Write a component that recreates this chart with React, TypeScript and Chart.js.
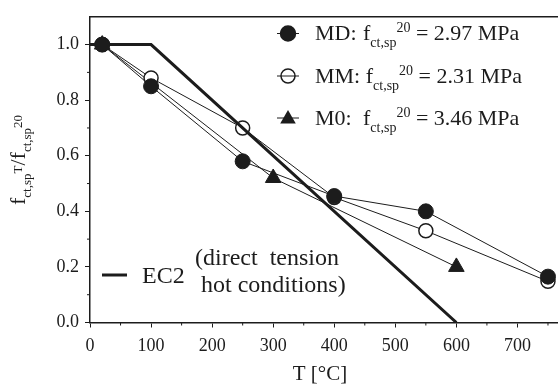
import { useEffect, useRef } from 'react';
import { Chart, registerables } from 'chart.js';

Chart.register(...registerables);

// Temperatures [°C] and relative splitting tensile strength f_ct,sp(T) / f_ct,sp(20)
const ec2Temp = [0, 100, 600];
const ec2Ratio = [1.0, 1.0, 0.0];

const mdTemp = [20, 100, 250, 400, 550, 750];
const mdRatio = [1.0, 0.85, 0.58, 0.455, 0.4, 0.165];

const mmTemp = [20, 100, 250, 400, 550, 750];
const mmRatio = [1.0, 0.88, 0.7, 0.45, 0.33, 0.148];

const m0Temp = [20, 300, 600];
const m0Ratio = [1.0, 0.52, 0.2];

const xTicks = [0, 100, 200, 300, 400, 500, 600, 700, 800];
const xMinorTicks = [50, 150, 250, 350, 450, 550, 650, 750];
const yTicks = [0, 0.2, 0.4, 0.6, 0.8, 1.0];
const yMinorTicks = [0.1, 0.3, 0.5, 0.7, 0.9];

const seriesNames = ['MD:', 'MM:', 'M0:'];
const seriesStrength = ['2.97', '2.31', '3.46'];

const FAMILY = '"Liberation Serif", "Times New Roman", serif';
const INK = '#1c1c1c';
const font = (size: number) => `${size}px ${FAMILY}`;

type Piece = { t: string; size: number; dy: number };

function drawPieces(ctx: CanvasRenderingContext2D, x: number, y: number, pieces: Piece[]) {
  let cx = x;
  for (const p of pieces) {
    ctx.font = font(p.size);
    ctx.fillText(p.t, cx, y + p.dy);
    cx += ctx.measureText(p.t).width;
  }
  return cx;
}

function circleMark(ctx: CanvasRenderingContext2D, x: number, y: number, r: number, filled: boolean) {
  ctx.beginPath();
  ctx.arc(x, y, r, 0, Math.PI * 2);
  if (filled) {
    ctx.fillStyle = INK;
    ctx.fill();
  }
  ctx.lineWidth = 1.5;
  ctx.stroke();
}

function triangleMark(ctx: CanvasRenderingContext2D, x: number, y: number, r: number) {
  ctx.beginPath();
  ctx.moveTo(x, y - r);
  ctx.lineTo(x + r * Math.cos(Math.PI / 6), y + r / 2);
  ctx.lineTo(x - r * Math.cos(Math.PI / 6), y + r / 2);
  ctx.closePath();
  ctx.fillStyle = INK;
  ctx.fill();
}

const decorations = {
  id: 'decorations',
  afterDraw(chart: any) {
    const { ctx, chartArea: a, scales } = chart;
    const xs = scales.x;
    const ys = scales.y;
    ctx.save();
    ctx.strokeStyle = INK;
    ctx.fillStyle = INK;

    // frame top edge
    ctx.lineWidth = 1.5;
    ctx.beginPath();
    ctx.moveTo(a.left, a.top);
    ctx.lineTo(a.right, a.top);
    ctx.stroke();

    // minor ticks
    ctx.lineWidth = 1;
    ctx.beginPath();
    for (const v of xMinorTicks) {
      const px = xs.getPixelForValue(v);
      ctx.moveTo(px, a.bottom);
      ctx.lineTo(px, a.bottom + 3);
    }
    for (const v of yMinorTicks) {
      const py = ys.getPixelForValue(v);
      ctx.moveTo(a.left - 3, py);
      ctx.lineTo(a.left, py);
    }
    ctx.stroke();

    // x axis title
    ctx.textBaseline = 'alphabetic';
    ctx.textAlign = 'center';
    ctx.font = font(21);
    ctx.fillText('T [°C]', 320, 380);
    ctx.textAlign = 'left';

    // y axis title (rotated)
    ctx.save();
    ctx.translate(25, 205);
    ctx.rotate(-Math.PI / 2);
    drawPieces(ctx, 0, 0, [
      { t: 'f', size: 22, dy: 0 },
      { t: 'ct,sp', size: 13, dy: 6 },
      { t: 'T', size: 13, dy: -3 },
      { t: '/', size: 22, dy: 0 },
      { t: 'f', size: 22, dy: 0 },
      { t: 'ct,sp', size: 13, dy: 6 },
      { t: '20', size: 13, dy: -3 },
    ]);
    ctx.restore();

    // series legend
    const rowY = [33.5, 76, 118];
    const markX = 288;
    const textX = 315;
    rowY.forEach((yy, i) => {
      ctx.strokeStyle = INK;
      ctx.lineWidth = 1;
      ctx.beginPath();
      ctx.moveTo(markX - 11, yy);
      ctx.lineTo(markX + 11, yy);
      ctx.stroke();
      if (i === 0) circleMark(ctx, markX, yy, 7.5, true);
      if (i === 1) circleMark(ctx, markX, yy, 7, false);
      if (i === 2) triangleMark(ctx, markX, yy + 1, 9);

      const base = yy + 6.5;
      ctx.fillStyle = INK;
      ctx.font = font(22);
      ctx.fillText(seriesNames[i], textX, base);
      const fx = Math.max(363, textX + ctx.measureText(seriesNames[i] + ' ').width);
      drawPieces(ctx, fx, base, [
        { t: 'f', size: 22, dy: 0 },
        { t: 'ct,sp', size: 14, dy: 7 },
        { t: '20', size: 14, dy: -8 },
        { t: ` = ${seriesStrength[i]} MPa`, size: 22, dy: 0 },
      ]);
    });

    // code legend
    ctx.lineWidth = 3;
    ctx.beginPath();
    ctx.moveTo(102, 275);
    ctx.lineTo(127, 275);
    ctx.stroke();
    ctx.font = font(24);
    ctx.fillText('EC2', 142, 283);
    ctx.fillText('(direct  tension', 195, 265);
    ctx.fillText('hot conditions)', 201, 292);

    ctx.restore();
  },
};

const pts = (xv: number[], yv: number[]) => xv.map((x, i) => ({ x, y: yv[i] }));

export default function App() {
  const canvasRef = useRef<HTMLCanvasElement | null>(null);

  useEffect(() => {
    const canvas = canvasRef.current;
    if (!canvas) return;
    const chart = new Chart(canvas, {
      type: 'scatter',
      data: {
        datasets: [
          {
            label: 'EC2',
            data: pts(ec2Temp, ec2Ratio),
            showLine: true,
            borderColor: INK,
            borderWidth: 3,
            pointRadius: 0,
            pointHoverRadius: 0,
          },
          {
            label: 'MD',
            data: pts(mdTemp, mdRatio),
            showLine: true,
            borderColor: INK,
            borderWidth: 1,
            pointStyle: 'circle',
            pointRadius: 7.5,
            pointBackgroundColor: INK,
            pointBorderColor: INK,
            pointBorderWidth: 1,
          },
          {
            label: 'MM',
            data: pts(mmTemp, mmRatio),
            showLine: true,
            borderColor: INK,
            borderWidth: 1,
            pointStyle: 'circle',
            pointRadius: 7,
            pointBackgroundColor: '#ffffff',
            pointBorderColor: INK,
            pointBorderWidth: 1.5,
          },
          {
            label: 'M0',
            data: pts(m0Temp, m0Ratio),
            showLine: true,
            borderColor: INK,
            borderWidth: 1,
            pointStyle: 'triangle',
            pointRadius: 9,
            pointBackgroundColor: INK,
            pointBorderColor: INK,
            pointBorderWidth: 1,
          },
        ],
      },
      options: {
        responsive: false,
        animation: false,
        devicePixelRatio: 1,
        layout: { padding: { left: 0, top: 5, right: 6, bottom: 0 } },
        plugins: {
          legend: { display: false },
          tooltip: { enabled: false },
          title: { display: false },
        },
        scales: {
          x: {
            type: 'linear',
            min: 0,
            max: 800,
            afterBuildTicks: (s: any) => {
              s.ticks = xTicks.map((value) => ({ value }));
            },
            afterFit: (s: any) => {
              s.height = 67.5;
            },
            ticks: {
              color: INK,
              font: { family: FAMILY, size: 18 },
              padding: 8,
              maxRotation: 0,
              autoSkip: false,
              callback: (v: any) => String(v),
            },
            grid: {
              drawOnChartArea: false,
              drawTicks: true,
              tickLength: 5,
              tickColor: INK,
              tickWidth: 1,
            },
            border: { display: true, color: INK, width: 1.5 },
          },
          y: {
            type: 'linear',
            min: 0,
            max: 1.1,
            afterBuildTicks: (s: any) => {
              s.ticks = yTicks.map((value) => ({ value }));
            },
            afterFit: (s: any) => {
              s.width = 90;
            },
            ticks: {
              color: INK,
              font: { family: FAMILY, size: 18 },
              padding: 6,
              autoSkip: false,
              callback: (v: any) => Number(v).toFixed(1),
            },
            grid: {
              drawOnChartArea: false,
              drawTicks: true,
              tickLength: 5,
              tickColor: INK,
              tickWidth: 1,
            },
            border: { display: true, color: INK, width: 1.5 },
          },
        },
      },
      plugins: [decorations],
    });
    return () => chart.destroy();
  }, []);

  return (
    <div
      style={{
        position: 'fixed',
        left: 0,
        top: 0,
        width: '100vw',
        height: '100vh',
        overflow: 'hidden',
        background: '#ffffff',
      }}
    >
      <canvas ref={canvasRef} width={600} height={390} style={{ display: 'block' }} />
    </div>
  );
}
